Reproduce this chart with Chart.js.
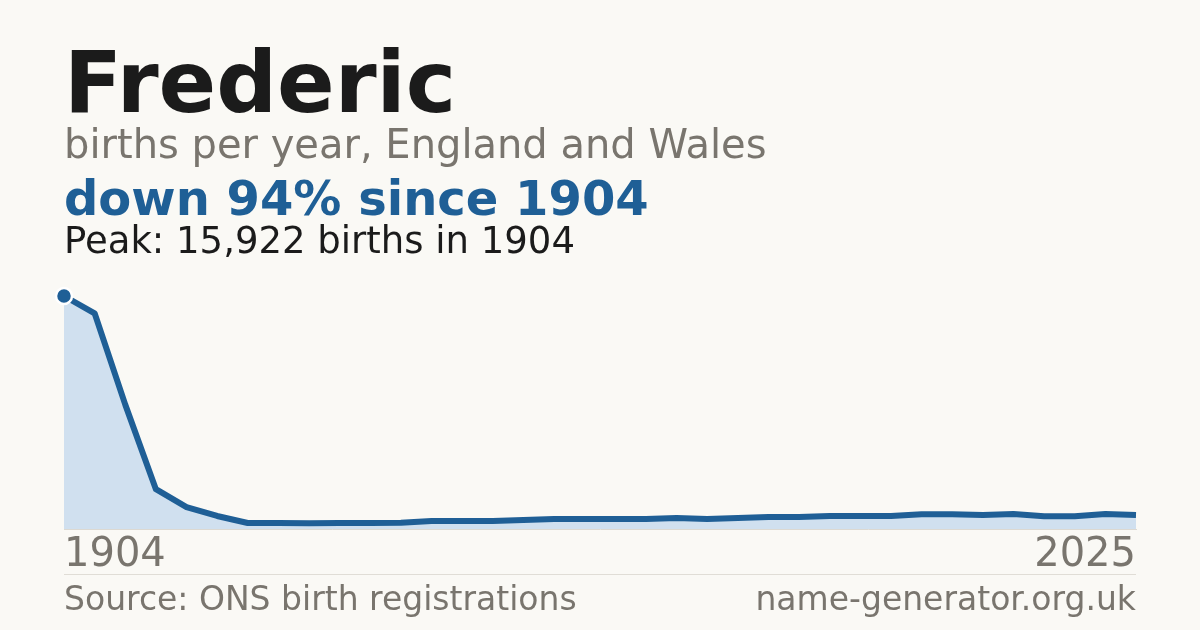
<!DOCTYPE html>
<html>
<head>
<meta charset="utf-8">
<script src="https://cdn.jsdelivr.net/npm/chart.js@4/dist/chart.umd.min.js"></script>
<style>
  html, body { margin: 0; padding: 0; }
  body { width: 1200px; height: 630px; background: #faf9f5; position: relative; overflow: hidden; font-family: "DejaVu Sans", sans-serif; }
  .t { position: absolute; left: 64px; line-height: 1; white-space: nowrap; }
  #name { top: 40px; font-size: 85px; font-weight: bold; color: #1b1b1b; }
  #sub { top: 124px; font-size: 40px; color: #79756e; }
  #change { top: 174px; font-size: 48px; font-weight: bold; color: #1f5f96; }
  #peak { top: 222px; font-size: 37px; color: #1b1b1b; }
  #source { top: 582px; font-size: 33px; color: #79756e; }
  #site { top: 582px; left: auto; right: 64px; font-size: 33px; color: #79756e; }
  #rule { position: absolute; left: 64px; width: 1072px; top: 574px; height: 1px; background: #e0ddd6; }
  #chart { position: absolute; left: 0; top: 0; }
</style>
</head>
<body>
<canvas id="chart" width="1200" height="630"></canvas>
<div class="t" id="name">Frederic</div>
<div class="t" id="sub">births per year, England and Wales</div>
<div class="t" id="change">down 94% since 1904</div>
<div class="t" id="peak">Peak: 15,922 births in 1904</div>
<div id="rule"></div>
<div class="t" id="source">Source: ONS birth registrations</div>
<div class="t" id="site">name-generator.org.uk</div>
<script>
// years on the x axis (decades first, then yearly)
const years = [
  1904, 1914, 1924, 1934, 1944, 1954, 1964, 1974, 1984, 1994,
  2000, 2001, 2002, 2003, 2004, 2005, 2006, 2007, 2008, 2009,
  2010, 2011, 2012, 2013, 2014, 2015, 2016, 2017, 2018, 2019,
  2020, 2021, 2022, 2023, 2024, 2025
];
// births per year
const births = [
  15922, 14740, 8500, 2720, 1500, 890, 410, 405, 400, 405,
  410, 420, 545, 545, 545, 610, 680, 680, 680, 680,
  750, 680, 750, 815, 815, 885, 885, 885, 1000, 1000,
  950, 1020, 865, 865, 1020, 955
];
const tickLabels = ['1904', '2025'];

const lineBlue = '#1f5f96';
const fillBlue = '#d0e0ef';
const grey = '#79756e';

new Chart('chart', {
  type: 'line',
  data: {
    labels: years.map(String),
    datasets: [{
      data: births,
      borderColor: lineBlue,
      borderWidth: 6,
      backgroundColor: fillBlue,
      fill: 'origin',
      tension: 0,
      borderJoinStyle: 'round',
      pointRadius: births.map((v, i) => i === 0 ? 8 : 0),
      pointBackgroundColor: lineBlue,
      pointBorderColor: '#ffffff',
      pointBorderWidth: 2.5,
      pointHoverRadius: 0
    }]
  },
  options: {
    responsive: false,
    animation: false,
    events: [],
    clip: false,
    layout: { padding: { left: 64, right: 64, top: 296, bottom: 55 } },
    plugins: { legend: { display: false }, tooltip: { enabled: false } },
    scales: {
      x: {
        grid: { display: false },
        border: { display: true, color: '#dcd9d2', width: 1 },
        ticks: {
          autoSkip: false,
          minRotation: 0,
          maxRotation: 0,
          align: 'inner',
          padding: -5,
          color: grey,
          font: { family: 'DejaVu Sans', size: 40 },
          callback: (v, i, ticks) => i === 0 ? tickLabels[0] : (i === ticks.length - 1 ? tickLabels[1] : '')
        }
      },
      y: { display: false, min: 0, max: 15922 }
    }
  }
});
</script>
</body>
</html>
